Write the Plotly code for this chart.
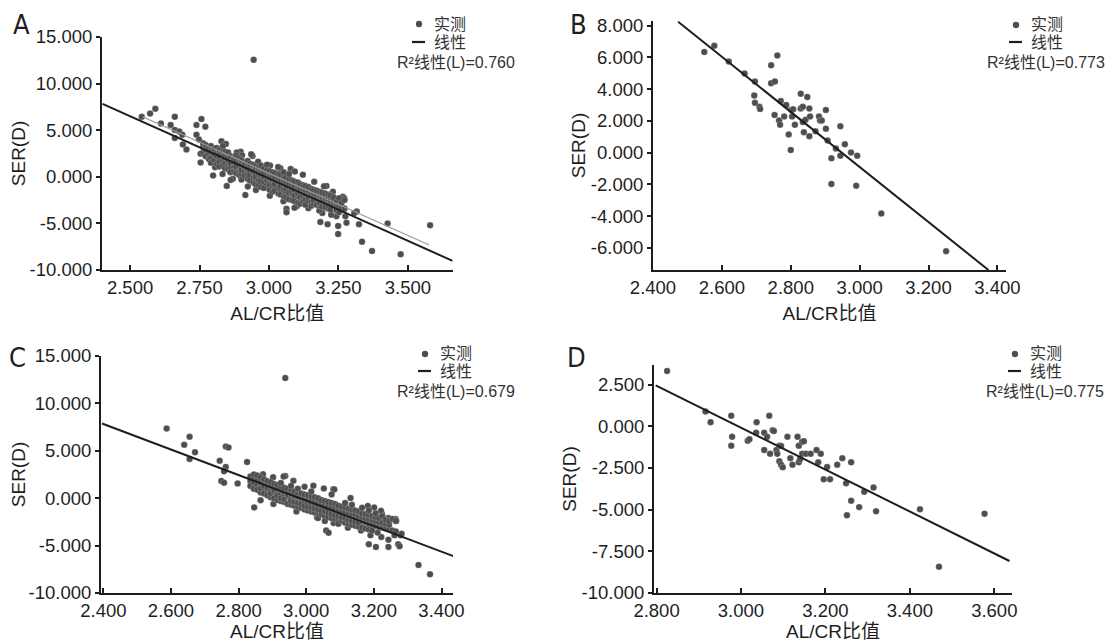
import plotly.graph_objects as go

# ---------------- DATA ----------------
# Panel A: isolated points (AL/CR, SER)
A_outer = [(2.945, 12.55), (2.542, 6.43), (2.572, 6.78), (2.591, 7.31), (2.611, 5.73), (2.646, 5.56),
           (2.661, 6.43), (2.661, 5.03), (2.677, 4.86), (2.688, 4.51), (2.661, 4.16), (2.690, 3.46),
           (2.703, 2.94), (2.739, 5.56), (2.757, 6.19), (2.771, 5.38), (2.739, 4.51), (2.748, 3.99),
           (2.754, 2.48), (2.754, 1.54), (2.799, 0.14), (2.848, -0.98), (2.915, -1.96), (2.870, -0.21),
           (2.829, 3.81), (2.845, 3.53), (2.898, 2.69), (2.941, 2.24), (2.936, 2.41), (3.063, -3.43),
           (3.063, -3.81), (3.185, -4.86), (3.211, -5.10), (3.249, -6.15), (3.249, -5.28), (3.243, -4.23),
           (3.279, -4.93), (3.316, -3.71), (3.324, -5.10), (3.335, -6.96), (3.371, -7.97), (3.427, -5.00),
           (3.474, -8.32), (3.580, -5.21), (3.207, -0.98), (3.266, -2.13), (3.271, -2.31), (3.230, -1.61),
           (3.224, -4.06), (3.192, -3.88), (3.275, -4.23), (3.268, -3.53), (3.078, 0.84), (3.307, -3.88),
           (2.884, 2.62), (2.903, 2.31), (2.961, 1.62), (3.004, 1.21), (3.041, 0.93), (3.093, 0.58),
           (3.122, 0.22), (3.163, -0.52), (3.198, -1.02), (2.953, -1.41), (3.003, -2.04), (3.052, -2.63),
           (3.101, -3.12), (3.142, -3.38), (3.181, -3.62), (2.862, -0.33), (2.833, 0.31), (2.806, 1.02),
           (2.924, -1.03), (3.033, 1.04), (3.092, -3.31)]
# Panel A: dense cloud, AL/CR column -> SER values
A_cloud = {
    2.763: [3.2, 2.6, 3.6], 2.772: [2.9, 2.2, 3.4], 2.784: [3.1, 2.5, 1.9], 2.791: [2.7, 2.0, 3.3, 1.5],
    2.803: [2.4, 2.9, 1.8, 3.0], 2.812: [2.2, 2.6, 1.4, 3.1], 2.821: [2.0, 2.5, 1.6, 2.9, 1.1],
    2.834: [2.3, 1.7, 1.2, 2.8, 3.3], 2.842: [1.9, 1.4, 2.4, 0.9, 2.7], 2.853: [1.6, 2.1, 1.1, 2.6, 0.8],
    2.861: [1.8, 1.3, 0.9, 2.2, 1.5, 0.5], 2.874: [1.5, 1.0, 2.0, 0.6, 1.9], 2.882: [1.3, 0.8, 1.7, 2.3, 0.4, 1.1],
    2.893: [1.1, 1.6, 0.5, 2.0, 0.2], 2.901: [0.9, 1.4, 0.3, 1.8, 0.7, -0.3], 2.912: [1.0, 0.5, 1.5, 0.1, 1.2],
    2.923: [0.7, 1.2, 0.2, -0.2, 1.7, 0.9], 2.931: [0.6, 1.0, 0.1, -0.4, 1.4], 2.944: [0.4, 0.9, -0.1, 1.3, -0.6, 0.6],
    2.952: [0.3, 0.8, -0.3, 1.1, -0.8, 0.0], 2.963: [0.2, 0.6, -0.4, 1.0, -0.9], 2.971: [0.0, 0.5, -0.5, 1.2, -1.1, 0.3],
    2.982: [-0.1, 0.4, -0.6, 0.9, -1.2], 2.993: [-0.2, 0.3, -0.8, 1.3, -0.4, 0.7], 3.002: [-0.3, 0.2, -0.9, 0.6, -1.4, -0.1],
    3.013: [-0.4, 0.1, -1.0, 0.5, -1.6], 3.021: [-0.5, 0.0, -1.1, 0.4, -1.5, -0.8], 3.034: [-0.6, -0.2, -1.2, 0.3, -1.8],
    3.042: [-0.7, -0.3, -1.3, 0.2, -1.9, -1.0], 3.053: [-0.9, -0.4, -1.4, 0.0, -2.1, 0.5], 3.061: [-1.0, -0.5, -1.6, -0.1, -2.2, -1.3],
    3.072: [-1.1, -0.7, -1.7, -0.2, -2.4, 0.3], 3.083: [-1.2, -0.8, -1.8, -0.4, -2.5, -1.5], 3.091: [-1.4, -0.9, -2.0, -0.5, -2.6],
    3.104: [-1.5, -1.0, -2.1, -0.6, -2.8, -1.8], 3.112: [-1.6, -1.2, -2.2, -0.8, -2.9], 3.123: [-1.7, -1.3, -2.3, -0.9, -2.7, -2.0],
    3.131: [-1.9, -1.4, -2.5, -1.0, -3.0], 3.142: [-2.0, -1.5, -2.6, -1.1, -2.2], 3.153: [-2.1, -1.7, -2.7, -1.3, -3.1],
    3.161: [-2.2, -1.8, -2.9, -1.4, -2.5], 3.172: [-2.4, -1.9, -3.0, -1.5], 3.183: [-2.5, -2.0, -3.1, -1.6, -2.8],
    3.191: [-2.6, -2.1, -3.2, -1.7], 3.202: [-2.7, -2.2, -3.3, -1.8], 3.213: [-2.8, -2.4, -3.4, -1.9],
    3.221: [-2.9, -2.5, -3.5, -2.0], 3.232: [-3.0, -2.6, -2.2], 3.243: [-3.1, -2.7, -3.6],
    3.252: [-3.2, -2.3, -3.8], 3.261: [-3.3, -2.8], 3.272: [-2.5, -3.4],
}
A_fit_x, A_fit_y = [2.401, 3.661], [7.83, -9.02]
A_ref_x, A_ref_y = [2.545, 3.577], [6.45, -7.31]
A_r2 = "0.760"

# Panel B
B_pts = [(2.549, 6.35), (2.578, 6.74), (2.620, 5.74), (2.666, 4.99), (2.696, 4.48), (2.694, 3.61), (2.696, 3.14),
         (2.709, 2.89), (2.711, 2.75), (2.743, 5.51), (2.761, 6.13), (2.743, 4.38), (2.754, 4.48), (2.753, 2.38),
         (2.766, 2.03), (2.769, 1.76), (2.771, 3.26), (2.781, 2.28), (2.787, 3.00), (2.794, 1.14), (2.800, 0.16),
         (2.802, 2.69), (2.804, 2.28), (2.807, 2.73), (2.812, 1.76), (2.829, 3.72), (2.829, 2.79), (2.835, 2.89),
         (2.835, 1.93), (2.838, 1.29), (2.843, 2.07), (2.848, 3.51), (2.854, 2.79), (2.856, 2.28), (2.854, 1.04),
         (2.872, 1.35), (2.882, 2.28), (2.885, 2.03), (2.890, 2.03), (2.902, 2.69), (2.902, 1.51), (2.907, 0.77),
         (2.918, -0.36), (2.918, -1.97), (2.931, 0.26), (2.944, 1.66), (2.944, -0.19), (2.957, 0.53), (2.975, 0.01),
         (2.990, -2.09), (2.993, -0.19), (3.063, -3.84), (3.251, -6.21)]
B_fit_x, B_fit_y = [2.473, 3.374], [8.25, -7.40]
B_r2 = "0.773"

# Panel C
C_outer = [(2.938, 12.67), (2.587, 7.36), (2.639, 5.63), (2.655, 6.49), (2.671, 4.86), (2.655, 4.13), (2.762, 5.45),
           (2.770, 5.35), (2.744, 3.96), (2.762, 3.30), (2.757, 2.85), (2.749, 1.81), (2.757, 1.63), (2.797, 1.56),
           (2.825, 3.82), (2.846, -0.97), (2.865, -0.21), (2.938, 2.33), (2.933, 2.28), (3.080, 0.94), (3.201, -0.97),
           (3.224, -1.67), (3.264, -2.19), (3.266, -2.40), (3.243, -2.10), (3.224, -2.71), (3.185, -4.86), (3.206, -5.14),
           (3.243, -5.14), (3.243, -4.38), (3.222, -4.10), (3.261, -3.92), (3.272, -4.86), (3.279, -3.92), (3.276, -5.07),
           (3.282, -3.75), (3.332, -7.05), (3.366, -8.02), (3.059, -3.40), (3.066, -3.65), (3.190, -3.92), (3.195, -2.43),
           (2.902, 2.21), (2.962, 1.83), (3.021, 1.32), (3.083, 0.91), (3.131, 0.02), (3.182, -0.81), (3.221, -1.32),
           (2.903, -0.62), (2.971, -1.41), (3.032, -2.03), (3.081, -2.62), (3.123, -3.11), (3.162, -3.42),
           (3.211, -3.63), (2.872, 2.52), (3.052, 1.03)]
C_cloud = {
    2.835: [1.8, 2.3, 1.3], 2.845: [1.6, 2.1, 1.0, 2.5], 2.855: [1.4, 1.9, 0.9, 2.4], 2.865: [1.2, 1.7, 0.6, 2.2, 1.0],
    2.875: [1.0, 1.5, 0.5, 2.0, 1.3], 2.885: [0.9, 1.4, 0.3, 1.8, 1.1], 2.895: [0.8, 1.3, 0.1, 1.7, 0.5],
    2.905: [0.7, 1.1, 0.0, 1.5, 0.9], 2.915: [0.5, 1.0, -0.2, 1.4, 0.3], 2.925: [0.4, 0.9, -0.3, 1.2, 0.0, 1.6],
    2.935: [0.3, 0.7, -0.4, 1.1, -0.1], 2.945: [0.2, 0.6, -0.6, 1.0, 0.4], 2.955: [0.0, 0.5, -0.7, 0.9, -0.3, 1.3],
    2.965: [-0.1, 0.3, -0.8, 0.7, -0.4], 2.975: [-0.2, 0.2, -0.9, 0.6, -0.5, 1.0], 2.985: [-0.3, 0.1, -1.0, 0.5, -0.6],
    2.995: [-0.4, 0.0, -1.2, 0.4, -0.8, 1.2], 3.005: [-0.5, -0.1, -1.3, 0.3, -0.9], 3.015: [-0.6, -0.2, -1.4, 0.2, -1.0, 0.7],
    3.025: [-0.8, -0.3, -1.5, 0.1, -1.1], 3.035: [-0.9, -0.4, -1.6, 0.0, -1.2, -2.1], 3.045: [-1.0, -0.6, -1.7, -0.2, -1.3],
    3.055: [-1.1, -0.7, -1.9, -0.3, -1.4, -2.4], 3.065: [-1.2, -0.8, -2.0, -0.4, -1.5], 3.075: [-1.3, -0.9, -2.1, -0.5, -1.7, 0.4],
    3.085: [-1.5, -1.0, -2.2, -0.6, -1.8], 3.095: [-1.6, -1.1, -2.3, -0.8, -1.9, -2.7], 3.105: [-1.7, -1.3, -2.4, -0.9, -2.0],
    3.115: [-1.8, -1.4, -2.6, -1.0, -2.1, -0.5], 3.125: [-1.9, -1.5, -2.7, -1.1, -2.3], 3.135: [-2.1, -1.6, -2.8, -1.2, -2.4, -0.7],
    3.145: [-2.2, -1.7, -2.9, -1.3, -2.5], 3.155: [-2.3, -1.9, -3.0, -1.4, -2.6], 3.165: [-2.4, -2.0, -3.1, -1.6, -1.0],
    3.175: [-2.5, -2.1, -3.2, -1.7], 3.185: [-2.7, -2.2, -3.3, -1.8, -1.3], 3.195: [-2.8, -2.3, -1.9, -3.4],
    3.205: [-2.9, -2.4, -2.0, -1.6], 3.215: [-3.0, -2.5, -2.1], 3.225: [-3.1, -2.6, -1.9], 3.235: [-3.2, -2.7, -2.3],
    3.245: [-3.3, -2.8, -2.4], 3.255: [-3.4, -2.2], 3.265: [-3.5, -2.4],
}
C_fit_x, C_fit_y = [2.396, 3.440], [7.88, -6.18]
C_r2 = "0.679"

# Panel D
D_pts = [(2.825, 3.32), (2.916, 0.89), (2.928, 0.25), (2.977, 0.64), (2.979, -0.63), (2.977, -1.16), (3.016, -0.87),
         (3.020, -0.77), (3.036, -0.38), (3.037, 0.25), (3.055, -0.38), (3.055, -1.42), (3.062, -0.63), (3.067, 0.64),
         (3.069, -1.65), (3.075, -0.24), (3.078, -0.28), (3.084, -1.42), (3.086, -1.65), (3.091, -1.16), (3.095, -1.18),
         (3.091, -2.10), (3.095, -2.30), (3.099, -2.46), (3.110, -0.63), (3.117, -1.91), (3.122, -2.30), (3.134, -0.63),
         (3.137, -1.16), (3.137, -2.16), (3.140, -1.97), (3.145, -0.93), (3.145, -1.65), (3.149, -0.89), (3.154, -1.65),
         (3.165, -1.65), (3.179, -1.42), (3.183, -2.16), (3.189, -1.65), (3.196, -3.18), (3.204, -2.44), (3.211, -3.18),
         (3.228, -2.30), (3.240, -1.91), (3.249, -3.42), (3.251, -5.34), (3.261, -2.16), (3.261, -4.46), (3.280, -4.85),
         (3.292, -3.93), (3.314, -3.67), (3.320, -5.10), (3.424, -4.98), (3.469, -8.43), (3.577, -5.24)]
D_fit_x, D_fit_y = [2.798, 3.636], [2.46, -8.08]
D_r2 = "0.775"

# Axis ticks
A_xticks = [2.5, 2.75, 3.0, 3.25, 3.5]
A_yticks = [-10, -5, 0, 5, 10, 15]
B_xticks = [2.4, 2.6, 2.8, 3.0, 3.2, 3.4]
B_yticks = [-6, -4, -2, 0, 2, 4, 6, 8]
C_xticks = [2.4, 2.6, 2.8, 3.0, 3.2, 3.4]
C_yticks = [-10, -5, 0, 5, 10, 15]
D_xticks = [2.8, 3.0, 3.2, 3.4, 3.6]
D_yticks = [-10, -7.5, -5, -2.5, 0, 2.5]

X_TITLE = "AL/CR比值"
Y_TITLE = "SER(D)"
LEG_PTS = "实测"
LEG_LINE = "线性"

# ---------------- STYLE ----------------
W, H = 1115, 642
OFF = 8  # page body margin of the exported html
FONT = "Liberation Sans, Arial, Noto Sans CJK SC, sans-serif"
DOT = "#4e4e4e"
INK = "#1e1e1e"
LEGC = "#333333"


def expand(outer, cloud):
    xs = [p[0] for p in outer]
    ys = [p[1] for p in outer]
    for cx, vals in cloud.items():
        for v in vals:
            xs.append(cx)
            ys.append(v)
    return xs, ys


def fmt(v):
    return f"{v:.3f}"


def px(x):
    return (x - OFF) / W


def py(y):
    return 1 - (y - OFF) / H


panels = [
    dict(key="A", pts=expand(A_outer, A_cloud), fit=(A_fit_x, A_fit_y), r2=A_r2,
         xr=[2.399, 3.661], yr=[-10, 15], xt=A_xticks, yt=A_yticks, xstand=9,
         dom_px=(102, 452.6, 37, 270), leg=(419, 24, 42, 432), r2pos=(456, 62), lab=(21, 25)),
    dict(key="B", pts=([p[0] for p in B_pts], [p[1] for p in B_pts]), fit=(B_fit_x, B_fit_y), r2=B_r2,
         xr=[2.4, 3.425], yr=[-7.4, 8.3], xt=B_xticks, yt=B_yticks, xstand=9,
         dom_px=(653, 1006, 21, 270), leg=(1016, 25, 42, 1029), r2pos=(1046, 62), lab=(578, 25)),
    dict(key="C", pts=expand(C_outer, C_cloud), fit=(C_fit_x, C_fit_y), r2=C_r2,
         xr=[2.393, 3.434], yr=[-10, 15], xt=C_xticks, yt=C_yticks, xstand=2,
         dom_px=(101, 453, 356, 593), leg=(425, 354, 371, 438), r2pos=(456.5, 391), lab=(17, 357)),
    dict(key="D", pts=([p[0] for p in D_pts], [p[1] for p in D_pts]), fit=(D_fit_x, D_fit_y), r2=D_r2,
         xr=[2.794, 3.642], yr=[-10, 3.68], xt=D_xticks, yt=D_yticks, xstand=2,
         dom_px=(654, 1012, 365, 593), leg=(1015, 354, 371, 1028), r2pos=(1044.5, 391), lab=(576, 358)),
]

fig = go.Figure()
layout = dict(width=W, height=H, autosize=False, margin=dict(l=0, r=0, t=0, b=0, autoexpand=False),
              paper_bgcolor="white", plot_bgcolor="white", showlegend=False,
              font=dict(family=FONT, color=INK))
annotations = []
shapes = []

for i, p in enumerate(panels):
    n = "" if i == 0 else str(i + 1)
    xa, ya = "x" + n, "y" + n
    x0, x1, y0, y1 = p["dom_px"]
    fig.add_trace(go.Scatter(x=p["pts"][0], y=p["pts"][1], mode="markers", name=LEG_PTS,
                             marker=dict(size=6.5, color=DOT, line=dict(width=0.5, color="rgba(255,255,255,0.4)")),
                             xaxis=xa, yaxis=ya))
    fig.add_trace(go.Scatter(x=p["fit"][0], y=p["fit"][1], mode="lines", name=LEG_LINE,
                             line=dict(color=INK, width=2), xaxis=xa, yaxis=ya))
    if p["key"] == "A":
        fig.add_trace(go.Scatter(x=A_ref_x, y=A_ref_y, mode="lines", showlegend=False,
                                 line=dict(color="#9a9a9a", width=1.2), xaxis=xa, yaxis=ya))
    layout["xaxis" + n] = dict(
        domain=[px(x0), px(x1)], range=p["xr"], anchor=ya, automargin=False,
        tickmode="array", tickvals=p["xt"], ticktext=[fmt(v) for v in p["xt"]],
        ticks="inside", ticklen=5, tickwidth=1.5, tickcolor=INK,
        showline=True, linecolor=INK, linewidth=2, showgrid=False, zeroline=False,
        tickfont=dict(size=18.5, family=FONT, color=INK),
        title=dict(text=X_TITLE, font=dict(size=19, family=FONT, color=INK), standoff=p["xstand"]))
    layout["yaxis" + n] = dict(
        domain=[py(y1), py(y0)], range=p["yr"], anchor=xa, automargin=False,
        tickmode="array", tickvals=p["yt"], ticktext=[fmt(v) for v in p["yt"]],
        ticks="outside", ticklen=4, tickwidth=1.5, tickcolor=INK,
        showline=True, linecolor=INK, linewidth=2, showgrid=False, zeroline=False,
        tickfont=dict(size=18.5, family=FONT, color=INK),
        title=dict(text=Y_TITLE, font=dict(size=19, family=FONT, color=INK), standoff=0))
    # legend block: dot + 实测, dash + 线性
    dx, dy, ly, tx = p["leg"]
    shapes.append(dict(type="circle", xref="paper", yref="paper",
                       x0=px(dx - 3.2), x1=px(dx + 3.2), y0=py(dy + 3.2), y1=py(dy - 3.2),
                       fillcolor=DOT, line=dict(width=0)))
    shapes.append(dict(type="line", xref="paper", yref="paper",
                       x0=px(dx - 7), x1=px(dx + 6), y0=py(ly), y1=py(ly),
                       line=dict(color=INK, width=2.2)))
    annotations.append(dict(text=LEG_PTS, x=px(tx), y=py(dy), xref="paper", yref="paper",
                            xanchor="left", yanchor="middle", showarrow=False,
                            font=dict(size=16, family=FONT, color=LEGC)))
    annotations.append(dict(text=LEG_LINE, x=px(tx), y=py(ly), xref="paper", yref="paper",
                            xanchor="left", yanchor="middle", showarrow=False,
                            font=dict(size=16, family=FONT, color=LEGC)))
    rx, ry = p["r2pos"]
    annotations.append(dict(text="R²线性(L)=" + p["r2"], x=px(rx), y=py(ry), xref="paper", yref="paper",
                            xanchor="center", yanchor="middle", showarrow=False,
                            font=dict(size=16, family=FONT, color=LEGC)))
    cx, cy = p["lab"]
    annotations.append(dict(text=p["key"], x=px(cx), y=py(cy), xref="paper", yref="paper",
                            xanchor="center", yanchor="middle", showarrow=False,
                            font=dict(size=27, family="Liberation Sans Narrow, DejaVu Sans Condensed, sans-serif",
                                      color=INK)))

layout["annotations"] = annotations
layout["shapes"] = shapes
fig.update_layout(**layout)
fig.write_html("out.html")
